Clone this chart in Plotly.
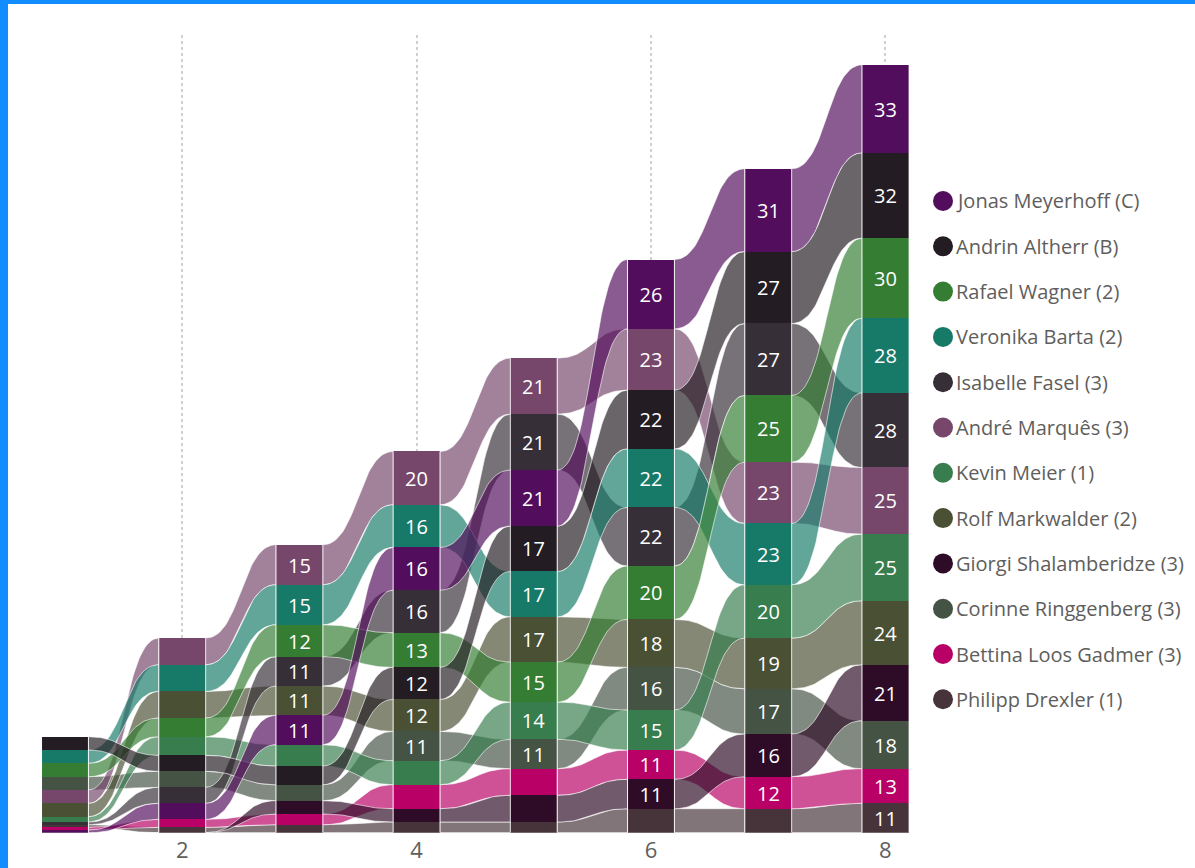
import numpy as np
import plotly.graph_objects as go

# ---------------- data ----------------
rounds = [1, 2, 3, 4, 5, 6, 7, 8]
tick_vals = [2, 4, 6, 8]
tick_text = ["2", "4", "6", "8"]

names = ["Jonas Meyerhoff (C)", "Andrin Altherr (B)", "Rafael Wagner (2)", "Veronika Barta (2)",
         "Isabelle Fasel (3)", "André Marquês (3)", "Kevin Meier (1)", "Rolf Markwalder (2)",
         "Giorgi Shalamberidze (3)", "Corinne Ringgenberg (3)", "Bettina Loos Gadmer (3)",
         "Philipp Drexler (1)"]

jonas    = [1, 6, 11, 16, 21, 26, 31, 33]
andrin   = [5, 6, 7, 12, 17, 22, 27, 32]
rafael   = [5, 7, 12, 13, 15, 20, 25, 30]
veronika = [5, 10, 15, 16, 17, 22, 23, 28]
isabelle = [1, 6, 11, 16, 21, 22, 27, 28]
andre    = [5, 10, 15, 20, 21, 23, 23, 25]
kevin    = [2, 7, 8, 9, 14, 15, 20, 25]
rolf     = [5, 10, 11, 12, 17, 18, 19, 24]
giorgi   = [0, 0, 5, 5, 10, 11, 16, 21]
corinne  = [5, 6, 6, 11, 11, 16, 17, 18]
bettina  = [1, 3, 4, 9, 10, 11, 12, 13]
philipp  = [1, 2, 3, 4, 4, 9, 9, 11]

values = [jonas, andrin, rafael, veronika, isabelle, andre, kevin, rolf,
          giorgi, corinne, bettina, philipp]

colors = ["#520D5C", "#231C22", "#347D32", "#177A68", "#372F37", "#76476B",
          "#377D4E", "#4A5033", "#2E0C27", "#455345", "#B80066", "#47343A"]

# stacking order per round, top to bottom (indices into names)
J, A, RW, V, I, AM, K, RM, G, C, B, P = range(12)
stack_order = [
    [A, V, RW, C, AM, RM, K, I, P, B, J, G],
    [AM, V, RM, RW, K, A, C, I, J, B, P, G],
    [AM, V, RW, I, RM, J, K, A, C, G, B, P],
    [AM, V, J, I, RW, A, RM, C, K, B, G, P],
    [AM, I, J, A, V, RM, RW, K, C, B, G, P],
    [J, AM, A, V, I, RW, RM, C, K, B, G, P],
    [J, A, I, RW, AM, V, K, RM, C, G, B, P],
    [J, A, RW, V, I, AM, K, RM, G, C, B, P],
]

# ---------------- layout helpers ----------------
W, H = 1195, 868
FONT = "Segoe UI, Open Sans, Noto Sans, sans-serif"
BAR_W = 0.4
ALPHA = 0.68

def rgba(hx, a):
    hx = hx.lstrip("#")
    r, g, b = int(hx[0:2], 16), int(hx[2:4], 16), int(hx[4:6], 16)
    return f"rgba({r},{g},{b},{a})"

n_series = len(names)
n_rounds = len(rounds)
bottoms = np.zeros((n_series, n_rounds))
for ri in range(n_rounds):
    acc = 0.0
    for si in reversed(stack_order[ri]):
        bottoms[si, ri] = acc
        acc += values[si][ri]
totals = [sum(v[ri] for v in values) for ri in range(n_rounds)]

def bezier(x0, y0, x1, y1, k=0.5, n=40):
    t = np.linspace(0, 1, n)
    dx = x1 - x0
    px = [x0, x0 + k * dx, x1 - k * dx, x1]
    py = [y0, y0, y1, y1]
    bx = ((1 - t) ** 3) * px[0] + 3 * ((1 - t) ** 2) * t * px[1] + 3 * (1 - t) * t ** 2 * px[2] + t ** 3 * px[3]
    by = ((1 - t) ** 3) * py[0] + 3 * ((1 - t) ** 2) * t * py[1] + 3 * (1 - t) * t ** 2 * py[2] + t ** 3 * py[3]
    return bx, by

fig = go.Figure()

# ribbons (drawn with first legend entries on top)
for si in reversed(range(n_series)):
    vals = values[si]
    for ri in range(n_rounds - 1):
        xa = rounds[ri] + BAR_W / 2
        xb = rounds[ri + 1] - BAR_W / 2
        b0, b1 = bottoms[si, ri], bottoms[si, ri + 1]
        t0, t1 = b0 + vals[ri], b1 + vals[ri + 1]
        tx, ty = bezier(xa, t0, xb, t1)
        bx, by = bezier(xb, b1, xa, b0)
        xs = np.concatenate([tx, bx, [tx[0]]])
        ys = np.concatenate([ty, by, [ty[0]]])
        fig.add_trace(go.Scatter(
            x=xs, y=ys, mode="lines", fill="toself",
            fillcolor=rgba(colors[si], ALPHA),
            line=dict(color="rgba(255,255,255,0.6)", width=1),
            hoverinfo="skip", showlegend=False))

# bars
for si in range(n_series):
    vals = values[si]
    fig.add_trace(go.Bar(
        x=rounds, y=vals, base=bottoms[si].tolist(), width=BAR_W,
        marker=dict(color=colors[si], line=dict(width=0)),
        text=[str(v) if v >= 11 else "" for v in vals],
        textposition="inside", insidetextanchor="middle", textangle=0,
        constraintext="none",
        textfont=dict(color="white", size=20, family=FONT),
        hoverinfo="skip", showlegend=False, name=names[si]))

shapes = []
# light edges of the columns
for ri in range(n_rounds):
    for dx in (-BAR_W / 2, BAR_W / 2):
        shapes.append(dict(type="line", xref="x", yref="y",
                           x0=rounds[ri] + dx, x1=rounds[ri] + dx, y0=0, y1=totals[ri],
                           line=dict(color="rgba(255,255,255,0.55)", width=1), layer="above"))

# legend (custom)
annotations = []
leg_x = 943
leg_y0 = 201
leg_dy = 45.3
for si in range(n_series):
    ypx = leg_y0 + si * leg_dy
    shapes.append(dict(type="circle", xref="paper", yref="paper",
                       xsizemode="pixel", ysizemode="pixel",
                       xanchor=leg_x / W, yanchor=1 - ypx / H,
                       x0=-10, x1=10, y0=-10, y1=10,
                       fillcolor=colors[si], line=dict(width=0)))
    annotations.append(dict(xref="paper", yref="paper", x=954 / W, y=1 - ypx / H,
                            xanchor="left", yanchor="middle", showarrow=False,
                            text=names[si], font=dict(size=20, color="#605E5C", family=FONT)))

# Power BI selection frame
shapes.append(dict(type="rect", xref="paper", yref="paper", x0=0, x1=8 / W, y0=0, y1=1,
                   fillcolor="#118DFF", line=dict(width=0), layer="above"))
shapes.append(dict(type="rect", xref="paper", yref="paper", x0=0, x1=1, y0=1 - 4 / H, y1=1,
                   fillcolor="#118DFF", line=dict(width=0), layer="above"))

# axes mapping: x=1 at 65px, 117.2 px per unit; y=0 at 832.7px, 2.666 px per unit
px_per_x = 117.2
x_lo = 1 - 65 / px_per_x
x_hi = 1 + (W - 65) / px_per_x
y_bot_px, y_top_px = 832.7, 35
px_per_y = 2.666

fig.update_layout(
    width=W, height=H, autosize=False,
    margin=dict(l=0, r=0, t=0, b=0, pad=0),
    paper_bgcolor="white", plot_bgcolor="white",
    barmode="overlay", bargap=0,
    showlegend=False, hovermode=False,
    xaxis=dict(range=[x_lo, x_hi], domain=[0, 1], tickvals=tick_vals, ticktext=tick_text,
               showgrid=True, gridcolor="#D2D0CE", griddash="dot", gridwidth=1.5,
               zeroline=False, showline=False, ticks="", ticklabelstandoff=2,
               automargin=False,
               tickfont=dict(size=22, color="#605E5C", family=FONT), fixedrange=True),
    yaxis=dict(range=[0, (y_bot_px - y_top_px) / px_per_y],
               domain=[1 - y_bot_px / H, 1 - y_top_px / H], automargin=False,
               visible=False, showgrid=False, zeroline=False, fixedrange=True),
    shapes=shapes, annotations=annotations,
    font=dict(family=FONT),
)

fig.write_html("out.html", config={"displayModeBar": False},
               post_script="document.body.style.margin='0';document.body.style.overflow='hidden';")
